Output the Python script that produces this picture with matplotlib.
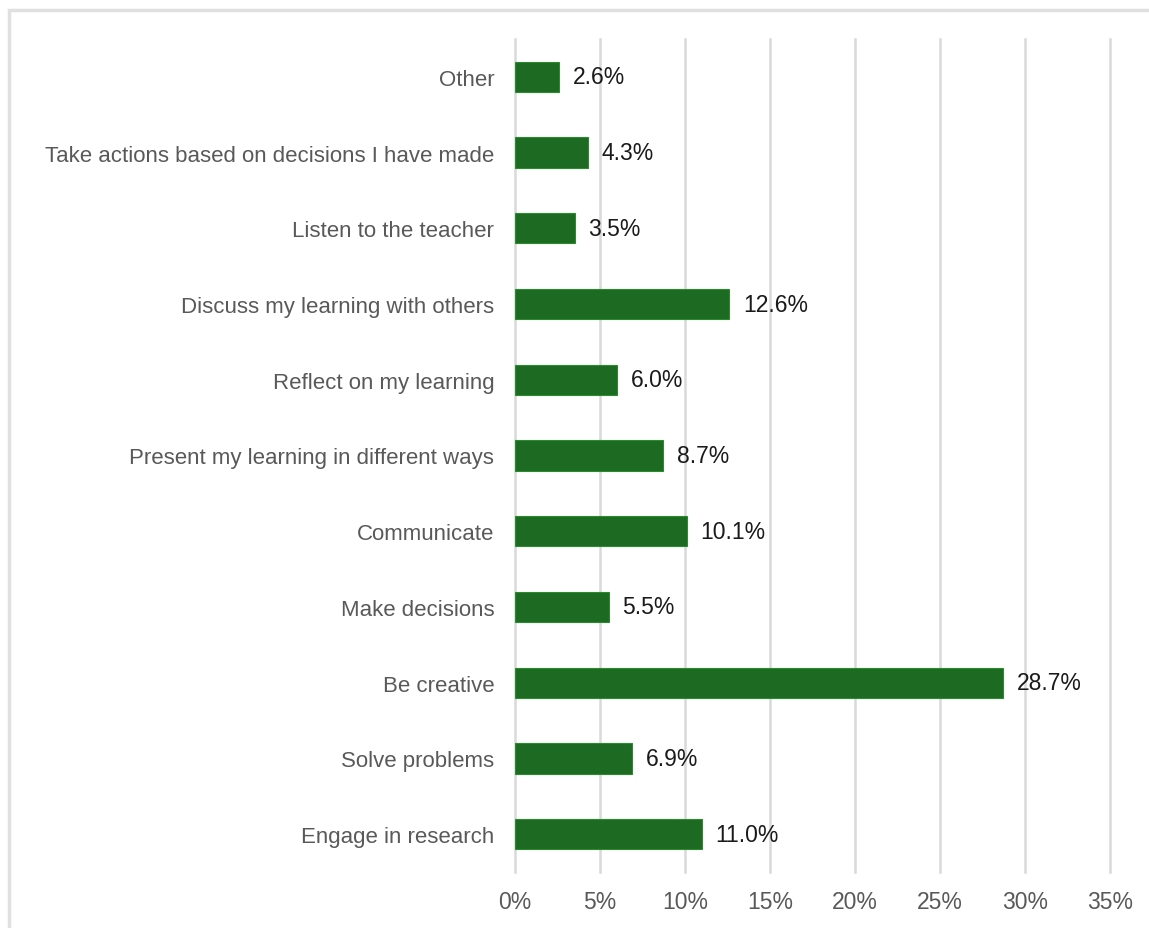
import matplotlib
matplotlib.use("Agg")
import matplotlib.pyplot as plt
from matplotlib.patches import Rectangle

categories = [
    "Engage in research",
    "Solve problems",
    "Be creative",
    "Make decisions",
    "Communicate",
    "Present my learning in different ways",
    "Reflect on my learning",
    "Discuss my learning with others",
    "Listen to the teacher",
    "Take actions based on decisions I have made",
    "Other",
]
values = [11.0, 6.9, 28.7, 5.5, 10.1, 8.7, 6.0, 12.6, 3.5, 4.3, 2.6]
xticks = [0, 5, 10, 15, 20, 25, 30, 35]
xtick_labels = ["0%", "5%", "10%", "15%", "20%", "25%", "30%", "35%"]

plt.rcParams['font.family'] = ['Liberation Sans', 'DejaVu Sans']

fig = plt.figure(figsize=(11.49, 9.29), dpi=100)
ax = fig.add_axes([515/1149, 1 - 873/929, (1110 - 515)/1149, (873 - 40)/929])

y = list(range(len(categories)))
ax.barh(y, values, height=0.4, color="#1d6b22", edgecolor="#2a8a30", linewidth=0.8, zorder=3)
for yi, v in zip(y, values):
    ax.text(v + 0.8, yi, f"{v:.1f}%", va="center", ha="left", fontsize=16.5,
            color="#1a1a1a", zorder=4)

ax.set_xlim(0, 35)
ax.set_ylim(-0.5, len(categories) - 0.5)
ax.set_xticks(xticks)
ax.set_xticklabels(xtick_labels, fontsize=16.5, color="#595959")
ax.set_yticks(y)
ax.set_yticklabels(categories, fontsize=16, color="#595959")
ax.tick_params(axis="both", length=0)
ax.tick_params(axis="x", pad=13)
ax.tick_params(axis="y", pad=15)
ax.grid(axis="x", color="#d9d9d9", linewidth=1.8, zorder=0)
for gl in ax.get_xgridlines():
    gl.set_clip_on(False)
for s in ax.spines.values():
    s.set_visible(False)

fig.patches.append(Rectangle((9/1149, -0.05), (1160 - 9)/1149, 1.05 - 11/929,
                             transform=fig.transFigure, fill=False,
                             edgecolor="#e0e0e0", linewidth=2.5))

fig.savefig("out.png", dpi=100)
